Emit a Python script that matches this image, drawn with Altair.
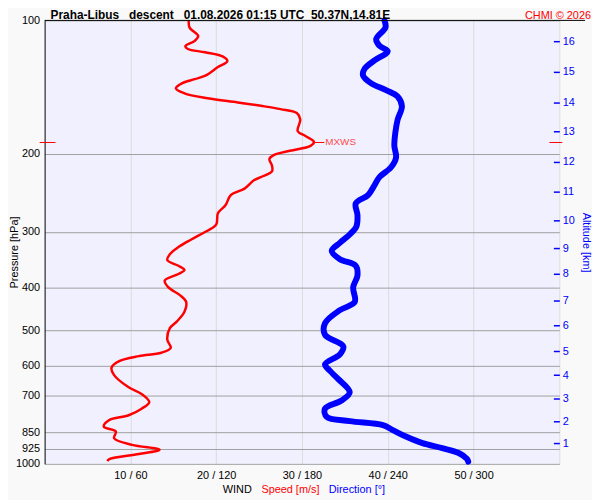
import altair as alt
import pandas as pd

# ---- data ----
speed_p = [100, 103.8, 108.4, 111.2, 114.4, 116.0, 118.0, 120.7, 123.5, 127.4, 133.0, 135.7, 138.7, 142.3,
           146.0, 149.8, 153.1, 155.8, 158.5, 161.8, 167.4, 177.7, 182.3, 187.9, 191.8, 196.8, 201.3, 205.4,
           212.5, 219.1, 225.6, 229.4, 239.5, 247.7, 260.8, 272.2, 288.8, 300.0, 311.9, 324.5, 336.8, 347.3,
           357.5, 365.5, 373.1, 386.1, 399.6, 416.9, 431.4, 454.1, 477.9, 494.3, 524.8, 547.5, 561.7, 571.6,
           586.4, 606.6, 631.0, 672.1, 695.5, 725.6, 750.9, 777.0, 797.2, 824.5, 845.9, 875.4, 906.0, 929.4,
           950.2, 974.7, 985]
speed_v = [16.8, 16.9, 17.9, 17.5, 16.4, 16.7, 18.7, 20.8, 21.3, 20.2, 18.8, 17.5, 16.0, 15.3, 16.3, 19.0,
           22.5, 25.2, 27.5, 29.4, 29.8, 29.5, 30.4, 31.4, 31.0, 28.6, 26.7, 26.2, 26.5, 26.5, 25.2, 24.4,
           23.3, 21.7, 21.1, 20.2, 20.0, 18.7, 17.1, 15.6, 14.6, 14.3, 15.6, 16.3, 15.6, 14.0, 14.4, 15.8,
           16.5, 16.3, 15.4, 14.6, 14.3, 14.7, 13.6, 11.0, 8.7, 7.8, 8.1, 9.8, 11.3, 12.2, 11.3, 9.8, 7.5,
           6.9, 8.3, 8.1, 10.2, 13.4, 11.0, 7.6, 7.3]

dir_p = [100, 103.8, 110.2, 114.1, 117.4, 123.1, 128.5, 133.0, 138.7, 143.6, 148.5, 156.3, 167.4, 179.2,
         191.8, 203.7, 214.4, 225.6, 235.4, 247.7, 258.7, 274.4, 291.3, 304.0, 317.4, 331.1, 345.5, 357.5,
         376.3, 399.6, 431.4, 450.2, 481.9, 511.5, 543.1, 566.7, 596.5, 617.2, 644.1, 689.5, 719.7, 750.9,
         783.4, 801.1, 817.8, 839.0, 867.9, 898.1, 921.4, 945.4, 974.7, 989]
dir_v = [237.7, 238.4, 231.9, 234.2, 240.0, 230.7, 223.8, 222.7, 228.5, 238.8, 246.9, 249.9, 246.9, 245.3,
         244.6, 245.8, 242.3, 234.2, 230.7, 226.2, 217.6, 218.8, 218.1, 213.4, 206.5, 200.8, 206.5, 217.6,
         218.8, 215.8, 216.9, 206.5, 196.1, 196.1, 208.9, 206.5, 196.1, 199.6, 205.4, 213.4, 207.7, 196.1,
         197.3, 213.4, 236.6, 243.5, 252.7, 264.3, 278.1, 289.6, 295.4, 296.3]

p_ticks = [100, 200, 300, 400, 500, 600, 700, 850, 925, 1000]
x_ticks = [10, 20, 30, 40, 50, 60]
x_labels = ["10 / 60", "20 / 120", "30 / 180", "40 / 240", "50 / 300", ""]
alt_km = [1, 2, 3, 4, 5, 6, 7, 8, 9, 10, 11, 12, 13, 14, 15, 16]
alt_p = [899.5, 801.1, 710.6, 631.0, 557.2, 487.9, 427.7, 373.1, 326.6, 283.0, 242.7, 208.2, 177.7,
         152.9, 130.7, 111.5]
mxws_speed = 31.4
mxws_p = 188.5
mxws_label_speed = 32.6

NB = "\u00a0"
title_text = f"Praha-Libus{NB*3}descent{NB*3}01.08.2026 01:15 UTC{NB*2}50.37N,14.81E"
credit_text = "CHMI © 2026"

FONT = "Liberation Sans"
RED = "#FF0000"
BLUE = "#0000FF"

speed_df = pd.DataFrame({"p": speed_p, "s": speed_v, "i": range(len(speed_p))})
dir_df = pd.DataFrame({"p": dir_p, "d": dir_v, "i": range(len(dir_p))})
one = pd.DataFrame({"p": [100]})
mx_df = pd.DataFrame({"p": [mxws_p], "s": [mxws_speed], "s2": [mxws_label_speed], "t": ["MXWS"]})

xs = alt.Scale(domain=[0, 60], nice=False, zero=False)
ys = alt.Scale(type="log", domain=[100, 1000], reverse=True, nice=False)


def lookup_expr(values, labels):
    expr = "''"
    for v, l in reversed(list(zip(values, labels))):
        expr = f"(abs(datum.value - {v}) < 0.01 ? '{l}' : {expr})"
    return expr


x_label_expr = lookup_expr(x_ticks, x_labels)
alt_label_expr = lookup_expr(alt_p, [str(k) for k in alt_km])

x_axis = alt.Axis(values=x_ticks, labelExpr=x_label_expr, grid=True, gridColor="#DCDCDC", gridWidth=1,
                  domain=False, ticks=False, labelPadding=6, title=None, labelFont=FONT, labelFontSize=11,
                  labelColor="#000000")
left_axis = alt.Axis(values=p_ticks, format="d", grid=True, gridColor="#A0A0A0", gridWidth=1,
                     domain=True, domainColor="#000000", domainWidth=1, ticks=False, labelPadding=5,
                     labelFont=FONT, labelFontSize=11, labelColor="#000000", title="Pressure [hPa]",
                     titleFont=FONT, titleFontSize=11, titleFontWeight="normal", titleColor="#000000",
                     titleAngle=-90, titleX=-27, titleY=234, titleAlign="center",
                     titleBaseline="alphabetic")
right_axis = alt.Axis(orient="right", values=alt_p, labelExpr=alt_label_expr, grid=False, domain=False,
                      ticks=True, tickColor=BLUE, tickSize=6, tickWidth=1.5, offset=-6, labelPadding=3,
                      labelFont=FONT, labelFontSize=11, labelColor=BLUE, title="Altitude [km]",
                      titleFont=FONT, titleFontSize=11, titleFontWeight="normal", titleColor=BLUE,
                      titleAngle=90, titlePadding=6)

speed_line = alt.Chart(speed_df).mark_line(color=RED, strokeWidth=2.5, strokeJoin="round",
                                           interpolate="catmull-rom").encode(
    x=alt.X("s:Q", scale=xs, axis=x_axis),
    y=alt.Y("p:Q", scale=ys, axis=left_axis),
    order="i:Q",
)

dir_line = alt.Chart(dir_df).transform_calculate(x="datum.d / 6").mark_line(
    color=BLUE, strokeWidth=6, strokeJoin="round", strokeCap="round", interpolate="catmull-rom").encode(
    x=alt.X("x:Q", scale=xs, axis=None),
    y=alt.Y("p:Q", scale=ys, axis=right_axis),
    order="i:Q",
)

top_line = alt.Chart(one).mark_rule(color="#000000", strokeWidth=1).encode(
    y=alt.Y("p:Q", scale=ys, axis=None), x=alt.value(0), x2=alt.value(546))

mx_left = alt.Chart(mx_df).mark_rule(color=RED, strokeWidth=1).encode(
    y=alt.Y("p:Q", scale=ys, axis=None), x=alt.value(-5), x2=alt.value(11))
mx_right = alt.Chart(mx_df).mark_rule(color=RED, strokeWidth=1).encode(
    y=alt.Y("p:Q", scale=ys, axis=None), x=alt.value(510), x2=alt.value(523))
mx_link = alt.Chart(mx_df).mark_rule(color=RED, strokeWidth=1).encode(
    y=alt.Y("p:Q", scale=ys, axis=None), x=alt.X("s:Q", scale=xs, axis=None), x2="s2:Q")
mx_text = alt.Chart(mx_df).mark_text(color="#FF4A4A", font=FONT, fontSize=10, align="left",
                                     baseline="middle", dx=1).encode(
    y=alt.Y("p:Q", scale=ys, axis=None), x=alt.X("s2:Q", scale=xs, axis=None), text="t:N")

title_mark = alt.Chart(one).mark_text(font=FONT, fontSize=12, fontWeight="bold", color="#000000",
                                      align="left", baseline="alphabetic", text=title_text).encode(
    x=alt.value(6), y=alt.value(-1.5))
credit_mark = alt.Chart(one).mark_text(font=FONT, fontSize=11, color=RED, align="right",
                                       baseline="alphabetic", text=credit_text).encode(
    x=alt.value(552), y=alt.value(-1.5))

leg1 = alt.Chart(one).mark_text(font=FONT, fontSize=11, color="#000000", align="left",
                                baseline="middle", text="WIND").encode(x=alt.value(180), y=alt.value(474))
leg2 = alt.Chart(one).mark_text(font=FONT, fontSize=11, color=RED, align="left",
                                baseline="middle", text="Speed [m/s]").encode(x=alt.value(219), y=alt.value(474))
leg3 = alt.Chart(one).mark_text(font=FONT, fontSize=11, color=BLUE, align="left",
                                baseline="middle", text="Direction [°]").encode(x=alt.value(287), y=alt.value(474))

chart = alt.layer(
    speed_line, dir_line, top_line, mx_left, mx_right, mx_link, mx_text,
    title_mark, credit_mark, leg1, leg2, leg3,
).resolve_axis(x="independent", y="independent").properties(
    width=520, height=448,
    autosize=alt.AutoSizeParams(type="none"),
    padding={"left": 37, "top": 10, "right": 33, "bottom": 34},
    background="#F9F9F9",
).configure_view(fill="#F0F0FF", stroke=None)

chart.save("out.html", embed_options={"renderer": "svg", "actions": False})
